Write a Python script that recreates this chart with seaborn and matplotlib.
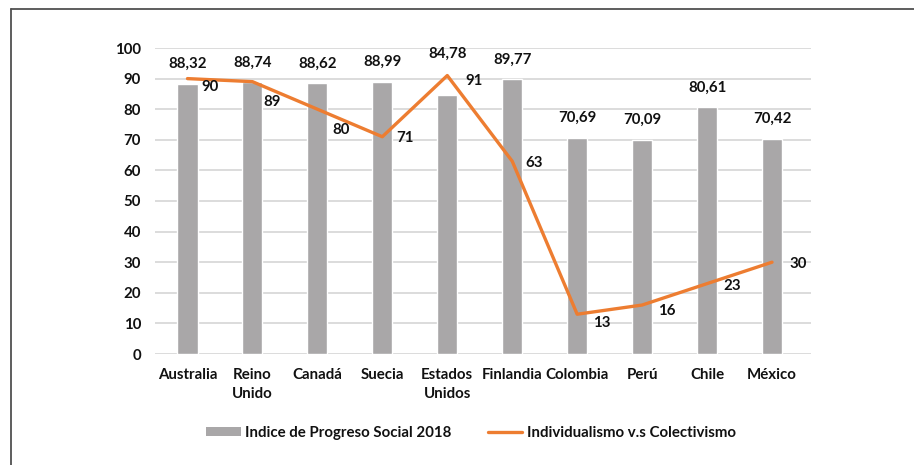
import matplotlib
matplotlib.use("Agg")
import matplotlib.pyplot as plt
from matplotlib.patches import Patch
from matplotlib.lines import Line2D
import seaborn as sns
import pandas as pd

# ---- data ----
countries = ["Australia", "Reino\nUnido", "Canadá", "Suecia", "Estados\nUnidos",
             "Finlandia", "Colombia", "Perú", "Chile", "México"]
ips_2018 = [88.32, 88.74, 88.62, 88.99, 84.78, 89.77, 70.69, 70.09, 80.61, 70.42]
individualismo = [90, 89, 80, 71, 91, 63, 13, 16, 23, 30]
bar_label = "Indice de Progreso Social 2018"
line_label = "Individualismo v.s Colectivismo"
yticks = [0, 10, 20, 30, 40, 50, 60, 70, 80, 90, 100]

# label offsets (points) for the line values, styling only
line_lab_dx = [16, 14, 17, 16, 19, 16, 18, 18, 18, 19]
line_lab_dy = [-6, -15, -15, -1, -4, -1, -6, -4, -2, -1]
bar_lab_extra = [0, 0, 0, 0, 15, 0, 0, 0, 0, 0]

df = pd.DataFrame({"pais": countries, "ips": ips_2018, "ind": individualismo})

sns.set_theme(style="white")
plt.rcParams["font.family"] = ["Lato", "DejaVu Sans"]
plt.rcParams["font.weight"] = "bold"

BAR = "#a9a7a8"
ORANGE = "#ed7d31"
TXT = "#111111"
FS = 10.8

fig = plt.figure(figsize=(9.14, 4.65), dpi=100)
ax = fig.add_axes([155 / 914, 1 - 354 / 465, (811 - 155) / 914, (354 - 48) / 465])

sns.barplot(data=df, x="pais", y="ips", color=BAR, width=0.31, saturation=1,
            ax=ax, zorder=2)
sns.lineplot(data=df, x="pais", y="ind", color=ORANGE, linewidth=2.4, sort=False,
             ax=ax, zorder=3)

ax.set_ylim(0, 100)
ax.set_xlim(-0.5, 9.6)
ax.set_yticks(yticks)
ax.set_xlabel("")
ax.set_ylabel("")
ax.grid(axis="y", color="#d9d9d9", linewidth=1.3, zorder=0)
ax.set_axisbelow(True)
for s in ax.spines.values():
    s.set_visible(False)
ax.tick_params(axis="both", length=0, labelsize=FS, colors=TXT)
ax.tick_params(axis="y", pad=10)
ax.tick_params(axis="x", pad=10)
for t in ax.get_xticklabels() + ax.get_yticklabels():
    t.set_fontweight("bold")
for t in ax.get_xticklabels():
    t.set_linespacing(1.45)

# bar value labels
for i, v in enumerate(ips_2018):
    ax.annotate(f"{v:.2f}".replace(".", ","), (i, v), xytext=(0, 9 + bar_lab_extra[i]),
                textcoords="offset points", ha="center", va="bottom",
                fontsize=FS, fontweight="bold", color=TXT)

# line value labels
for i, v in enumerate(individualismo):
    ax.annotate(str(v), (i, v), xytext=(line_lab_dx[i], line_lab_dy[i]),
                textcoords="offset points", ha="center", va="center",
                fontsize=FS, fontweight="bold", color=TXT, zorder=4)

handles = [Patch(facecolor=BAR, edgecolor="none"),
           Line2D([0], [0], color=ORANGE, linewidth=2.4)]
fig.legend(handles, [bar_label, line_label], loc="center",
           bbox_to_anchor=(471 / 914, 1 - 433 / 465), ncol=2, frameon=False,
           handlelength=2.3, handleheight=0.6, columnspacing=2.4,
           handletextpad=0.3, labelcolor=TXT, prop={"weight": "bold", "size": FS})

# outer frame (left and top edges visible)
fig.add_artist(Line2D([11 / 914, 11 / 914], [0, 1 - 9 / 465], color="#505050",
                      linewidth=1.3, transform=fig.transFigure))
fig.add_artist(Line2D([11 / 914, 1], [1 - 9 / 465, 1 - 9 / 465], color="#505050",
                      linewidth=1.3, transform=fig.transFigure))

fig.savefig("out.png", dpi=100)
